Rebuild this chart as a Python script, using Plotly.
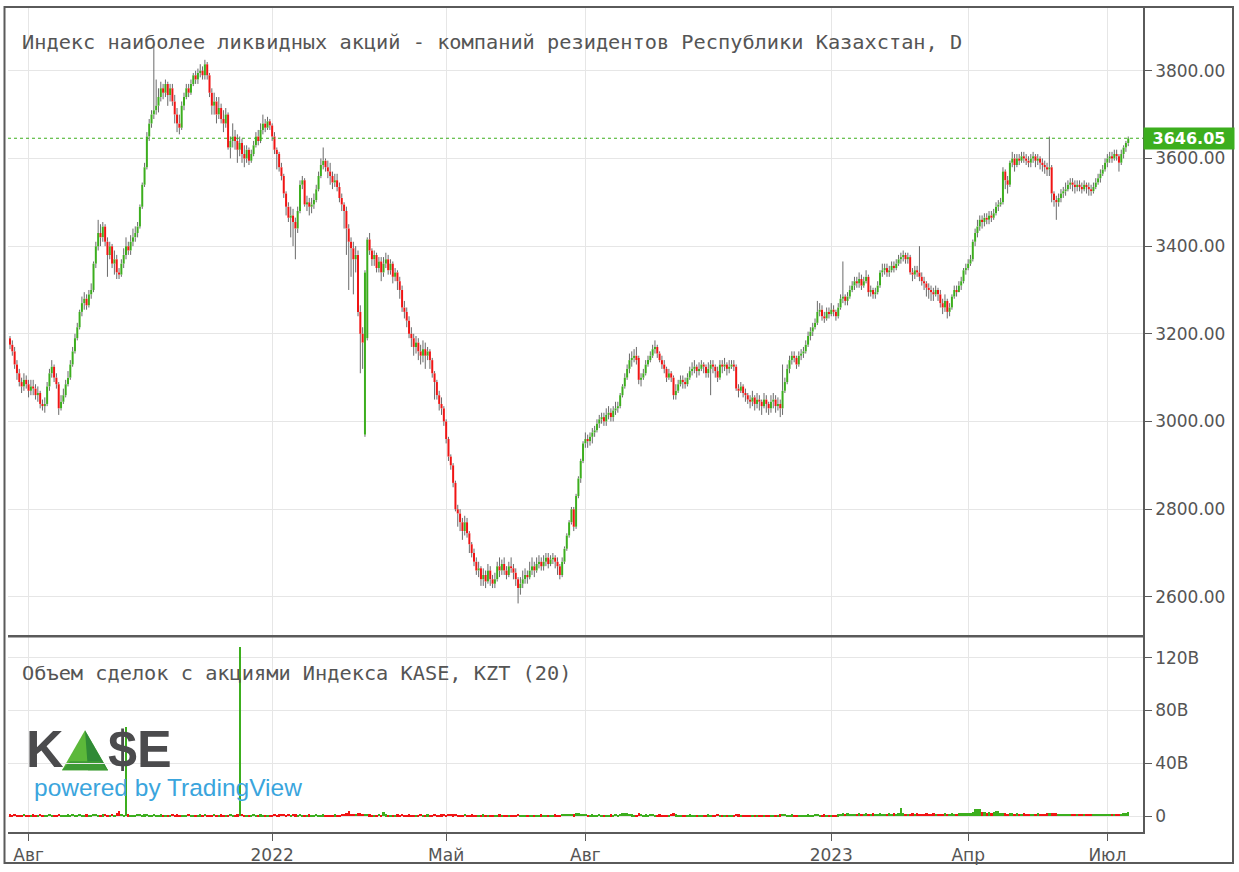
import plotly.graph_objects as go

# ---------------- data (trading-day index 0..482, daily candles) ----------------
open_ = [
    3190, 3175, 3160, 3130, 3110, 3090, 3080, 3095, 3085, 3070,
    3080, 3075, 3060, 3065, 3040, 3035, 3040, 3080, 3110, 3125,
    3100, 3085, 3030, 3045, 3060, 3085, 3100, 3130, 3160, 3190,
    3215, 3250, 3270, 3280, 3265, 3290, 3300, 3360, 3400, 3430,
    3420, 3445, 3410, 3380, 3400, 3360, 3370, 3340, 3335, 3360,
    3380, 3400, 3390, 3410, 3420, 3430, 3445, 3490, 3540, 3580,
    3650, 3680, 3700, 3710, 3720, 3740, 3760, 3750, 3770, 3745,
    3760, 3730, 3700, 3680, 3670, 3720, 3740, 3760, 3750, 3770,
    3790, 3780, 3795, 3800, 3790, 3815, 3790, 3750, 3720, 3730,
    3700, 3715, 3690, 3680, 3700, 3625, 3640, 3650, 3640, 3620,
    3635, 3610, 3600, 3620, 3595, 3610, 3630, 3650, 3640, 3665,
    3680, 3670, 3685, 3675, 3650, 3620, 3610, 3580, 3560, 3520,
    3490, 3465, 3470, 3455, 3440, 3480, 3540, 3550, 3495, 3500,
    3490, 3495, 3505, 3530, 3560, 3585, 3595, 3580, 3570, 3560,
    3545, 3550, 3535, 3510, 3495, 3480, 3440, 3410, 3395, 3370,
    3380, 3250, 3200, 2970, 3190, 3415, 3390, 3370, 3380, 3350,
    3365, 3340, 3360, 3370, 3345, 3360, 3330, 3340, 3320, 3300,
    3260, 3250, 3230, 3200, 3190, 3170, 3180, 3160, 3150, 3165,
    3150, 3160, 3140, 3110, 3090, 3060, 3040, 3030, 3000, 2960,
    2920, 2900, 2860, 2800, 2790, 2770, 2750, 2770, 2745, 2720,
    2700, 2680, 2660, 2665, 2640, 2650, 2635, 2660, 2640, 2630,
    2640, 2670, 2660, 2675, 2660, 2650, 2670, 2665, 2655, 2640,
    2620, 2630, 2640, 2650, 2645, 2660, 2670, 2660, 2675, 2680,
    2670, 2680, 2690, 2675, 2685, 2690, 2680, 2670, 2650, 2680,
    2710, 2740, 2770, 2800, 2760, 2830, 2870, 2910, 2950, 2960,
    2955, 2965, 2975, 2980, 2995, 3005, 3010, 3000, 3015, 3020,
    3010, 3025, 3030, 3035, 3060, 3080, 3100, 3120, 3140, 3145,
    3150, 3145, 3095, 3100, 3110, 3130, 3140, 3150, 3165, 3170,
    3155, 3140, 3130, 3120, 3100, 3110, 3100, 3060, 3070, 3085,
    3095, 3090, 3085, 3100, 3115, 3120, 3125, 3115, 3120, 3130,
    3125, 3110, 3120, 3130, 3125, 3115, 3100, 3130, 3125, 3130,
    3120, 3125, 3130, 3125, 3075, 3070, 3080, 3065, 3060, 3050,
    3045, 3055, 3040, 3050, 3045, 3035, 3050, 3040, 3030, 3045,
    3050, 3035, 3040, 3030, 3070, 3090, 3120, 3140, 3150, 3145,
    3130, 3150, 3155, 3160, 3175, 3195, 3205, 3215, 3225, 3250,
    3255, 3240, 3235, 3250, 3245, 3255, 3250, 3240, 3260, 3280,
    3285, 3275, 3285, 3300, 3310, 3320, 3315, 3325, 3310, 3320,
    3330, 3295, 3300, 3290, 3295, 3310, 3340, 3345, 3350, 3340,
    3345, 3355, 3350, 3360, 3370, 3375, 3380, 3370, 3375, 3340,
    3335, 3345, 3340, 3330, 3320, 3315, 3305, 3300, 3295, 3290,
    3300, 3290, 3270, 3260, 3275, 3250, 3260, 3285, 3300, 3295,
    3310, 3320, 3345, 3350, 3360, 3370, 3410, 3430, 3445, 3460,
    3455, 3465, 3460, 3470, 3465, 3475, 3490, 3495, 3500, 3570,
    3550, 3540, 3590, 3600, 3585, 3600, 3595, 3605, 3600, 3595,
    3590, 3600, 3605, 3595, 3600, 3590, 3585, 3580, 3575, 3580,
    3520, 3505, 3500, 3510, 3520, 3525, 3530, 3540, 3545, 3540,
    3535, 3540, 3535, 3530, 3540, 3535, 3530, 3525, 3535, 3545,
    3555, 3565, 3575, 3590, 3600, 3605, 3600, 3610, 3605, 3590,
    3610, 3625, 3635,
]

high = [
    3195, 3185, 3170, 3140, 3120, 3100, 3110, 3105, 3095, 3095,
    3095, 3085, 3080, 3070, 3050, 3055, 3090, 3120, 3140, 3130,
    3110, 3090, 3060, 3075, 3095, 3115, 3140, 3170, 3200, 3225,
    3255, 3285, 3295, 3290, 3300, 3315, 3365, 3410, 3460, 3450,
    3455, 3450, 3420, 3410, 3405, 3390, 3380, 3350, 3370, 3395,
    3420, 3410, 3425, 3440, 3445, 3455, 3495, 3545, 3590, 3660,
    3690, 3710, 3860, 3780, 3760, 3775, 3770, 3780, 3775, 3770,
    3770, 3745, 3715, 3700, 3730, 3750, 3770, 3770, 3780, 3795,
    3800, 3805, 3815, 3810, 3825, 3820, 3795, 3760, 3750, 3740,
    3740, 3725, 3710, 3715, 3705, 3650, 3680, 3665, 3655, 3650,
    3645, 3630, 3630, 3625, 3620, 3640, 3660, 3665, 3680, 3700,
    3690, 3695, 3690, 3680, 3660, 3625, 3615, 3590, 3565, 3525,
    3500, 3490, 3485, 3465, 3490, 3550, 3560, 3555, 3515, 3510,
    3510, 3520, 3540, 3570, 3600, 3625, 3600, 3595, 3590, 3570,
    3565, 3565, 3545, 3520, 3500, 3490, 3450, 3420, 3410, 3400,
    3390, 3265, 3215, 3345, 3420, 3430, 3395, 3390, 3385, 3375,
    3375, 3375, 3385, 3380, 3370, 3365, 3350, 3345, 3330, 3310,
    3275, 3260, 3240, 3215, 3200, 3195, 3190, 3175, 3185, 3180,
    3170, 3165, 3145, 3115, 3095, 3070, 3055, 3035, 3005, 2965,
    2925, 2905, 2865, 2810, 2800, 2780, 2785, 2780, 2750, 2725,
    2710, 2690, 2680, 2670, 2665, 2660, 2675, 2670, 2650, 2655,
    2680, 2690, 2685, 2690, 2670, 2680, 2690, 2675, 2665, 2645,
    2645, 2660, 2665, 2660, 2680, 2690, 2680, 2690, 2695, 2690,
    2695, 2700, 2700, 2695, 2700, 2695, 2690, 2675, 2690, 2715,
    2745, 2775, 2805, 2805, 2835, 2875, 2915, 2955, 2975, 2970,
    2975, 2985, 2990, 3005, 3015, 3020, 3020, 3030, 3035, 3030,
    3035, 3045, 3045, 3065, 3085, 3110, 3130, 3155, 3160, 3165,
    3170, 3150, 3110, 3120, 3140, 3150, 3160, 3175, 3185, 3175,
    3160, 3150, 3140, 3125, 3120, 3115, 3105, 3085, 3095, 3105,
    3105, 3100, 3110, 3125, 3135, 3140, 3130, 3135, 3140, 3135,
    3130, 3135, 3140, 3140, 3130, 3125, 3140, 3140, 3145, 3135,
    3140, 3140, 3140, 3130, 3085, 3090, 3085, 3075, 3065, 3060,
    3070, 3060, 3065, 3060, 3050, 3065, 3060, 3045, 3060, 3065,
    3060, 3055, 3050, 3130, 3100, 3130, 3150, 3160, 3160, 3150,
    3160, 3165, 3170, 3185, 3205, 3215, 3225, 3235, 3275, 3270,
    3265, 3250, 3260, 3260, 3270, 3265, 3255, 3270, 3290, 3365,
    3290, 3295, 3310, 3320, 3330, 3330, 3340, 3335, 3330, 3345,
    3335, 3310, 3305, 3305, 3320, 3345, 3360, 3360, 3360, 3355,
    3365, 3365, 3370, 3380, 3385, 3390, 3385, 3385, 3380, 3350,
    3355, 3355, 3400, 3340, 3330, 3320, 3315, 3310, 3305, 3310,
    3305, 3300, 3280, 3290, 3280, 3270, 3290, 3310, 3310, 3320,
    3330, 3350, 3360, 3370, 3380, 3415, 3440, 3460, 3470, 3470,
    3475, 3475, 3480, 3480, 3485, 3500, 3505, 3510, 3580, 3575,
    3560, 3595, 3615, 3610, 3610, 3610, 3615, 3615, 3610, 3605,
    3610, 3615, 3610, 3610, 3605, 3600, 3595, 3590, 3650, 3585,
    3525, 3515, 3520, 3530, 3535, 3545, 3550, 3555, 3555, 3550,
    3550, 3550, 3545, 3550, 3545, 3545, 3540, 3545, 3555, 3565,
    3575, 3585, 3600, 3610, 3615, 3615, 3620, 3620, 3610, 3620,
    3630, 3640, 3650,
]

low = [
    3165, 3150, 3120, 3095, 3080, 3065, 3070, 3075, 3055, 3060,
    3060, 3050, 3045, 3030, 3025, 3020, 3035, 3070, 3100, 3090,
    3075, 3015, 3025, 3040, 3055, 3080, 3095, 3125, 3155, 3185,
    3210, 3240, 3255, 3255, 3260, 3280, 3295, 3350, 3390, 3400,
    3410, 3400, 3330, 3370, 3350, 3335, 3325, 3325, 3330, 3350,
    3370, 3380, 3380, 3400, 3410, 3420, 3440, 3485, 3535, 3575,
    3640, 3670, 3690, 3700, 3705, 3730, 3735, 3740, 3720, 3730,
    3720, 3680, 3660, 3655, 3665, 3710, 3735, 3740, 3745, 3765,
    3770, 3770, 3785, 3780, 3780, 3780, 3740, 3700, 3700, 3680,
    3690, 3680, 3660, 3670, 3620, 3600, 3625, 3620, 3590, 3605,
    3590, 3580, 3590, 3585, 3590, 3605, 3625, 3630, 3635, 3655,
    3660, 3665, 3665, 3640, 3610, 3575, 3570, 3550, 3510, 3470,
    3455, 3420, 3400, 3370, 3430, 3475, 3530, 3490, 3480, 3470,
    3475, 3485, 3500, 3525, 3555, 3575, 3570, 3555, 3540, 3530,
    3535, 3525, 3500, 3480, 3440, 3380, 3300, 3330, 3290, 3340,
    3240, 3110, 3120, 2965, 3185, 3380, 3355, 3355, 3340, 3340,
    3320, 3330, 3350, 3335, 3335, 3315, 3320, 3300, 3280, 3250,
    3235, 3215, 3190, 3170, 3150, 3155, 3140, 3130, 3135, 3120,
    3140, 3120, 3100, 3050, 3050, 3025, 3015, 2990, 2950, 2910,
    2890, 2850, 2795, 2760, 2750, 2730, 2740, 2735, 2700, 2690,
    2670, 2650, 2645, 2625, 2625, 2620, 2630, 2625, 2620, 2620,
    2635, 2645, 2650, 2650, 2640, 2645, 2655, 2640, 2625, 2585,
    2605, 2620, 2630, 2630, 2640, 2650, 2645, 2655, 2665, 2660,
    2660, 2670, 2665, 2670, 2675, 2665, 2650, 2640, 2645, 2675,
    2705, 2735, 2765, 2750, 2755, 2825, 2860, 2905, 2940, 2940,
    2945, 2950, 2965, 2975, 2985, 2995, 2990, 2990, 3005, 3000,
    3000, 3015, 3020, 3030, 3055, 3075, 3095, 3110, 3125, 3135,
    3130, 3085, 3080, 3095, 3105, 3125, 3135, 3145, 3155, 3145,
    3135, 3120, 3110, 3090, 3095, 3090, 3050, 3050, 3065, 3080,
    3075, 3075, 3080, 3095, 3105, 3110, 3100, 3105, 3115, 3110,
    3100, 3100, 3060, 3110, 3100, 3090, 3095, 3110, 3115, 3105,
    3110, 3120, 3115, 3070, 3055, 3065, 3055, 3045, 3040, 3030,
    3035, 3025, 3030, 3025, 3015, 3030, 3020, 3015, 3020, 3030,
    3020, 3025, 3010, 3015, 3065, 3085, 3110, 3130, 3135, 3120,
    3125, 3140, 3145, 3155, 3170, 3185, 3195, 3210, 3220, 3240,
    3230, 3225, 3230, 3235, 3240, 3240, 3230, 3235, 3255, 3270,
    3265, 3265, 3280, 3295, 3300, 3305, 3305, 3300, 3305, 3315,
    3285, 3285, 3280, 3280, 3290, 3305, 3330, 3335, 3330, 3330,
    3340, 3340, 3345, 3355, 3360, 3365, 3360, 3360, 3335, 3320,
    3325, 3330, 3320, 3310, 3300, 3285, 3280, 3275, 3275, 3285,
    3275, 3260, 3245, 3250, 3235, 3240, 3255, 3280, 3285, 3295,
    3300, 3315, 3335, 3345, 3355, 3365, 3400, 3420, 3435, 3440,
    3445, 3450, 3450, 3455, 3460, 3470, 3480, 3490, 3495, 3530,
    3520, 3535, 3580, 3570, 3580, 3585, 3590, 3590, 3585, 3580,
    3580, 3590, 3580, 3585, 3575, 3570, 3565, 3560, 3560, 3500,
    3490, 3460, 3490, 3500, 3510, 3515, 3525, 3530, 3525, 3520,
    3525, 3525, 3520, 3525, 3520, 3515, 3515, 3520, 3530, 3540,
    3545, 3560, 3570, 3580, 3590, 3590, 3595, 3595, 3570, 3585,
    3600, 3615, 3628,
]

close = [
    3175, 3160, 3130, 3110, 3090, 3080, 3095, 3085, 3070, 3080,
    3075, 3060, 3065, 3040, 3035, 3040, 3080, 3110, 3125, 3100,
    3085, 3030, 3045, 3060, 3085, 3100, 3130, 3160, 3190, 3215,
    3250, 3270, 3280, 3265, 3290, 3300, 3360, 3400, 3430, 3420,
    3445, 3410, 3380, 3400, 3360, 3370, 3340, 3335, 3360, 3380,
    3400, 3390, 3410, 3420, 3430, 3445, 3490, 3540, 3580, 3650,
    3680, 3700, 3710, 3720, 3740, 3760, 3750, 3770, 3745, 3760,
    3730, 3700, 3680, 3670, 3720, 3740, 3760, 3750, 3770, 3790,
    3780, 3795, 3800, 3790, 3815, 3790, 3750, 3720, 3730, 3700,
    3715, 3690, 3680, 3700, 3625, 3640, 3650, 3640, 3620, 3635,
    3610, 3600, 3620, 3595, 3610, 3630, 3650, 3640, 3665, 3680,
    3670, 3685, 3675, 3650, 3620, 3610, 3580, 3560, 3520, 3490,
    3465, 3470, 3455, 3440, 3480, 3540, 3550, 3495, 3500, 3490,
    3495, 3505, 3530, 3560, 3585, 3595, 3580, 3570, 3560, 3545,
    3550, 3535, 3510, 3495, 3480, 3440, 3410, 3395, 3370, 3380,
    3250, 3200, 3180, 3340, 3415, 3390, 3370, 3380, 3350, 3365,
    3340, 3360, 3370, 3345, 3360, 3330, 3340, 3320, 3300, 3260,
    3250, 3230, 3200, 3190, 3170, 3180, 3160, 3150, 3165, 3150,
    3160, 3140, 3110, 3090, 3060, 3040, 3030, 3000, 2960, 2920,
    2900, 2860, 2800, 2790, 2770, 2750, 2770, 2745, 2720, 2700,
    2680, 2660, 2665, 2640, 2650, 2635, 2660, 2640, 2630, 2640,
    2670, 2660, 2675, 2660, 2650, 2670, 2665, 2655, 2640, 2620,
    2630, 2640, 2650, 2645, 2660, 2670, 2660, 2675, 2680, 2670,
    2680, 2690, 2675, 2685, 2690, 2680, 2670, 2650, 2680, 2710,
    2740, 2770, 2800, 2760, 2830, 2870, 2910, 2950, 2960, 2955,
    2965, 2975, 2980, 2995, 3005, 3010, 3000, 3015, 3020, 3010,
    3025, 3030, 3035, 3060, 3080, 3100, 3120, 3140, 3145, 3150,
    3140, 3095, 3100, 3110, 3130, 3140, 3150, 3165, 3170, 3155,
    3140, 3130, 3120, 3100, 3110, 3100, 3060, 3070, 3085, 3095,
    3090, 3085, 3100, 3115, 3120, 3125, 3115, 3120, 3130, 3125,
    3110, 3120, 3130, 3125, 3115, 3100, 3130, 3125, 3130, 3120,
    3125, 3130, 3125, 3075, 3070, 3080, 3065, 3060, 3050, 3045,
    3055, 3040, 3050, 3045, 3035, 3050, 3040, 3030, 3045, 3050,
    3035, 3040, 3030, 3070, 3090, 3120, 3140, 3150, 3145, 3130,
    3150, 3155, 3160, 3175, 3195, 3205, 3215, 3225, 3250, 3255,
    3240, 3235, 3250, 3245, 3255, 3250, 3240, 3260, 3280, 3285,
    3275, 3285, 3300, 3310, 3320, 3315, 3325, 3310, 3320, 3330,
    3295, 3300, 3290, 3295, 3310, 3340, 3345, 3350, 3340, 3345,
    3355, 3350, 3360, 3370, 3375, 3380, 3370, 3375, 3340, 3335,
    3345, 3340, 3330, 3320, 3315, 3305, 3300, 3295, 3290, 3300,
    3290, 3270, 3260, 3275, 3250, 3260, 3285, 3300, 3295, 3310,
    3320, 3345, 3350, 3360, 3370, 3410, 3430, 3445, 3460, 3455,
    3465, 3460, 3470, 3465, 3475, 3490, 3495, 3500, 3570, 3550,
    3540, 3590, 3600, 3585, 3600, 3595, 3605, 3600, 3595, 3590,
    3600, 3605, 3595, 3600, 3590, 3585, 3580, 3575, 3580, 3520,
    3505, 3500, 3510, 3520, 3525, 3530, 3540, 3545, 3540, 3535,
    3540, 3535, 3530, 3540, 3535, 3530, 3525, 3535, 3545, 3555,
    3565, 3575, 3590, 3600, 3605, 3600, 3610, 3605, 3590, 3610,
    3625, 3635, 3646.05,
]

# trade volume, billions of KZT
volume_b = [
    1.5, 1.2, 1.8, 1.0, 1.4, 1.1, 1.6, 1.3, 1.0, 1.2, 1.5, 1.1, 1.3, 1.7, 1.2, 1.0, 1.4, 1.9, 1.3, 1.1,
    1.2, 1.6, 1.4, 1.0, 1.3, 1.5, 1.2, 1.8, 1.4, 1.1, 1.6, 1.3, 1.2, 1.5, 1.0, 1.4, 2.0, 1.7, 1.3, 1.2,
    1.5, 1.8, 1.3, 1.1, 1.6, 1.4, 2.2, 4.0, 1.8, 1.3, 68.0, 1.5, 1.2, 1.4, 1.1, 1.6, 1.8, 1.3, 1.5, 2.1,
    1.4, 1.2, 1.7, 1.3, 1.0, 1.5, 1.2, 1.4, 1.1, 1.3, 1.6, 1.2, 1.5, 1.0, 1.3, 1.4, 1.1, 1.6, 1.2, 1.4,
    1.0, 1.3, 1.5, 1.2, 1.7, 1.1, 1.4, 1.2, 1.6, 1.0, 1.3, 1.5, 1.2, 1.4, 1.1, 1.6, 1.3, 1.2, 1.5, 128.0,
    1.8, 1.2, 1.4, 1.1, 1.3, 1.6, 1.2, 1.0, 1.5, 1.3, 1.1, 1.4, 1.2, 1.0, 1.6, 1.3, 1.5, 1.9, 2.1, 1.4,
    1.6, 1.3, 1.8, 1.5, 1.2, 1.7, 1.4, 1.3, 1.1, 1.5, 1.2, 1.4, 1.6, 1.3, 1.1, 1.5, 1.2, 1.4, 1.0, 1.3,
    1.5, 1.2, 1.4, 1.7, 1.9, 2.3, 4.2, 2.0, 1.8, 1.6, 2.5, 2.2, 1.9, 2.0, 1.7, 1.5, 1.3, 1.4, 1.2, 1.6,
    1.3, 3.2, 1.5, 1.2, 1.4, 1.1, 1.3, 1.5, 1.2, 1.6, 1.4, 1.2, 1.5, 1.1, 1.3, 1.4, 1.2, 1.6, 1.0, 1.3,
    1.5, 1.2, 1.4, 1.6, 1.3, 1.1, 1.5, 1.7, 1.4, 1.6, 1.9, 1.5, 1.8, 1.3, 1.2, 1.4, 1.6, 1.1, 1.3, 1.5,
    1.2, 1.4, 1.0, 1.3, 1.5, 1.2, 1.1, 1.4, 1.3, 1.0, 1.2, 1.5, 1.1, 1.3, 1.0, 1.2, 1.4, 1.1, 1.3, 1.6,
    1.1, 1.3, 1.0, 1.2, 1.4, 1.1, 1.3, 1.0, 1.2, 1.5, 1.1, 1.4, 1.2, 1.0, 1.3, 1.5, 1.2, 1.4, 1.6, 1.8,
    2.0, 1.7, 1.9, 1.5, 2.2, 2.4, 2.1, 1.8, 1.6, 1.4, 1.3, 1.5, 1.2, 1.4, 1.6, 1.3, 1.1, 1.4, 1.2, 1.5,
    1.3, 1.6, 1.2, 2.0, 2.4, 2.8, 2.2, 1.8, 1.5, 1.3, 1.4, 2.6, 1.6, 1.3, 1.5, 1.2, 1.6, 2.0, 1.4, 1.2,
    1.5, 1.3, 1.2, 1.4, 1.1, 1.6, 2.3, 1.5, 1.3, 1.2, 1.4, 1.1, 1.3, 1.5, 1.2, 1.0, 1.4, 1.3, 1.1, 1.2,
    1.3, 1.5, 1.2, 1.0, 1.4, 1.6, 1.2, 1.3, 1.1, 1.4, 1.2, 1.0, 1.3, 1.8, 1.5, 1.2, 1.4, 1.1, 1.3, 1.2,
    1.0, 1.4, 1.2, 1.1, 1.3, 1.0, 1.2, 1.4, 1.1, 1.3, 1.0, 1.2, 1.5, 1.8, 1.6, 1.4, 1.3, 1.5, 1.2, 1.4,
    1.1, 1.3, 1.2, 1.4, 1.5, 1.3, 1.2, 1.6, 1.8, 1.4, 1.3, 1.5, 1.2, 1.4, 1.1, 1.3, 1.2, 1.5, 1.7, 2.2,
    2.0, 2.2, 1.8, 2.1, 1.9, 2.0, 2.3, 1.8, 2.0, 2.4, 2.1, 1.9, 2.2, 2.0, 1.8, 2.2, 2.0, 2.1, 1.9, 2.2,
    2.0, 2.3, 2.1, 2.4, 6.5, 2.2, 2.0, 2.1, 1.9, 2.2, 2.0, 2.3, 2.1, 1.8, 2.0, 2.2, 1.9, 2.1, 2.3, 2.0,
    1.9, 2.1, 2.0, 2.2, 1.8, 2.0, 2.3, 2.1, 2.0, 2.4, 2.2, 2.5, 2.3, 2.6, 2.8, 3.0, 5.5, 5.8, 5.6, 3.2,
    3.0, 2.9, 3.1, 2.8, 3.0, 4.2, 3.8, 2.4, 2.6, 2.3, 2.1, 2.4, 2.2, 2.0, 2.3, 2.1, 1.9, 2.2, 2.0, 1.8,
    2.1, 1.9, 2.0, 2.2, 1.8, 2.0, 2.1, 2.3, 2.6, 2.9, 2.4, 2.2, 2.0, 1.9, 2.1, 1.8, 2.0, 1.9, 1.7, 2.0,
    1.8, 2.0, 1.9, 1.7, 1.8, 2.0, 1.9, 1.8, 2.0, 2.1, 1.9, 2.0, 1.8, 2.1, 1.9, 2.0, 1.8, 1.9, 2.1, 2.0,
    2.2, 2.4, 3.5,
]

tick_idx = [8, 113, 188, 248, 354, 413, 473]
tick_text = ["Авг", "2022", "Май", "Авг", "2023", "Апр", "Июл"]
price_ticks = [2600, 2800, 3000, 3200, 3400, 3600, 3800]
price_tick_text = ["2600.00", "2800.00", "3000.00", "3200.00", "3400.00", "3600.00", "3800.00"]
vol_ticks = [0, 40, 80, 120]
vol_tick_text = ["0", "40B", "80B", "120B"]
last_price = 3646.05

title_main = "Индекс наиболее ликвидных акций - компаний резидентов Республики Казахстан, D"
title_vol = "Объем сделок с акциями Индекса KASE, KZT (20)"

# ---------------- styling ----------------
GREEN = "#3cae1e"
RED = "#f01414"
WICK = "#6a6a6a"
GRID = "#e6e6e6"
AXIS = "#5a5a5a"
TXT = "#555555"

W, H = 1239, 872
L, R, T, B = 8, 96, 7, 37
PW, PH = W - L - R, H - T - B


def px_x(px):
    return (px - L) / PW


def px_y(py):
    return (H - B - py) / PH


n = min(len(open_), len(high), len(low), len(close), len(volume_b))
xs = list(range(n))

# wicks (upper and lower parts separately so bodies stay pure colour)
wx, wy = [], []
for i in range(n):
    top = max(open_[i], close[i])
    bot = min(open_[i], close[i])
    wx += [i, i, None, i, i, None]
    wy += [high[i], top, None, bot, low[i], None]

gx, gy, rx, ry = [], [], [], []
for i in range(n):
    if close[i] >= open_[i]:
        gx += [i, i, None]
        gy += [open_[i], close[i], None]
    else:
        rx += [i, i, None]
        ry += [open_[i], close[i], None]

vol_colors = [GREEN if close[i] >= open_[i] else RED for i in range(n)]

fig = go.Figure()
fig.add_trace(go.Scatter(x=wx, y=wy, mode="lines", line=dict(color=WICK, width=1),
                         hoverinfo="skip", showlegend=False, xaxis="x", yaxis="y"))
fig.add_trace(go.Scatter(x=gx, y=gy, mode="lines", line=dict(color=GREEN, width=2),
                         hoverinfo="skip", showlegend=False, xaxis="x", yaxis="y"))
fig.add_trace(go.Scatter(x=rx, y=ry, mode="lines", line=dict(color=RED, width=2),
                         hoverinfo="skip", showlegend=False, xaxis="x", yaxis="y"))
fig.add_trace(go.Bar(x=xs, y=volume_b[:n], marker=dict(color=vol_colors, line=dict(width=0)),
                     width=1.0, showlegend=False, hoverinfo="skip", xaxis="x2", yaxis="y2"))

xr = [(L - 10) / 2.32, (W - R - 10) / 2.32]
main_bottom = px_y(637)
vol_top = px_y(639)

# y ranges from pixel calibration
ppu = 88 / 200.0
y_top = 3800 + (71 - T) / ppu
y_bot = 2600 - (637 - 599) / ppu
vppu = 53 / 40.0
v_top = (819 - 639) / vppu
v_bot = -(H - B - 819) / vppu

tickfont = dict(family="DejaVu Sans", size=17, color=TXT)

fig.update_layout(
    width=W, height=H,
    margin=dict(l=L, r=R, t=T, b=B),
    paper_bgcolor="white", plot_bgcolor="white",
    bargap=0,
    showlegend=False,
    xaxis=dict(domain=[0, 1], anchor="y", range=xr, tickmode="array", tickvals=tick_idx,
               showticklabels=False, showgrid=True, gridcolor=GRID, gridwidth=1,
               zeroline=False, showline=True, linecolor=AXIS, linewidth=1.5, ticks=""),
    yaxis=dict(domain=[main_bottom, 1], anchor="x", side="right", range=[y_bot, y_top],
               tickmode="array", tickvals=price_ticks, ticktext=price_tick_text,
               ticks="outside", ticklen=7, tickcolor=AXIS, tickwidth=1,
               showline=True, linecolor=AXIS, linewidth=1.5,
               showgrid=True, gridcolor=GRID, zeroline=False, tickfont=tickfont),
    xaxis2=dict(domain=[0, 1], anchor="y2", range=xr, tickmode="array", tickvals=tick_idx,
                ticktext=tick_text, ticks="outside", ticklen=7, tickcolor=AXIS,
                showline=True, linecolor=AXIS, linewidth=1.5,
                showgrid=True, gridcolor=GRID, zeroline=False, tickfont=tickfont),
    yaxis2=dict(domain=[0, vol_top], anchor="x2", side="right", range=[v_bot, v_top],
                tickmode="array", tickvals=vol_ticks, ticktext=vol_tick_text,
                ticks="outside", ticklen=7, tickcolor=AXIS,
                showline=True, linecolor=AXIS, linewidth=1.5,
                showgrid=True, gridcolor=GRID, zeroline=False, tickfont=tickfont),
)

shapes = [
    # last price dotted line
    dict(type="line", xref="paper", yref="y", x0=0, x1=1, y0=last_price, y1=last_price,
         line=dict(color=GREEN, width=1.2, dash="dot"), layer="above"),
    # top border of volume pane
    dict(type="line", xref="paper", yref="paper", x0=0, x1=1, y0=vol_top, y1=vol_top,
         line=dict(color=AXIS, width=1.5)),
    # outer frame
    dict(type="rect", xref="paper", yref="paper",
         x0=px_x(4.5), x1=px_x(1233), y0=px_y(866), y1=px_y(7),
         line=dict(color=AXIS, width=2), fillcolor="rgba(0,0,0,0)"),
    # KASE logo triangle (the "A")
    dict(type="path", xref="paper", yref="paper", layer="below",
         path=f"M {px_x(62)} {px_y(773)} L {px_x(85)} {px_y(733)} L {px_x(108)} {px_y(773)} Z",
         fillcolor="#5cb83a", line=dict(width=0)),
    dict(type="path", xref="paper", yref="paper", layer="below",
         path=f"M {px_x(85)} {px_y(733)} L {px_x(108)} {px_y(773)} L {px_x(88)} {px_y(773)} Z",
         fillcolor="#2f8a36", line=dict(width=0)),
    dict(type="path", xref="paper", yref="paper", layer="below",
         path=f"M {px_x(70)} {px_y(764)} L {px_x(100)} {px_y(764)} L {px_x(108)} {px_y(773)} L {px_x(62)} {px_y(773)} Z",
         fillcolor="#3d9a34", line=dict(width=0)),
]
fig.update_layout(shapes=shapes)

annotations = [
    dict(xref="paper", yref="paper", x=px_x(20), y=px_y(42), xanchor="left", yanchor="middle",
         text=title_main, showarrow=False,
         font=dict(family="DejaVu Sans Mono", size=20.3, color=TXT)),
    dict(xref="paper", yref="paper", x=px_x(20), y=px_y(675), xanchor="left", yanchor="middle",
         text=title_vol, showarrow=False,
         font=dict(family="DejaVu Sans Mono", size=20.3, color=TXT)),
    dict(xref="paper", yref="y", x=1, y=last_price, xanchor="left", yanchor="middle",
         text="<b>3646.05</b>", showarrow=False, bgcolor=GREEN, borderpad=1,
         width=88, height=19, align="center",
         font=dict(family="DejaVu Sans", size=16, color="white")),
    dict(xref="paper", yref="paper", x=px_x(24), y=px_y(752), xanchor="left", yanchor="middle",
         text="<b>K</b>", showarrow=False,
         font=dict(family="Liberation Sans", size=52, color="#4b4b4d")),
    dict(xref="paper", yref="paper", x=px_x(106), y=px_y(752), xanchor="left", yanchor="middle",
         text="<b>$E</b>", showarrow=False,
         font=dict(family="Liberation Sans", size=52, color="#4b4b4d")),
    dict(xref="paper", yref="paper", x=px_x(32), y=px_y(790), xanchor="left", yanchor="middle",
         text="powered by TradingView", showarrow=False,
         font=dict(family="Liberation Sans", size=24.5, color="#3aa5dd")),
]
fig.update_layout(annotations=annotations)

fig.write_html(
    "out.html",
    config={"displayModeBar": False},
    post_script="document.documentElement.style.margin='0px';"
                "document.body.style.margin='0px';document.body.style.padding='0px';"
                "document.body.style.overflow='hidden';",
)
